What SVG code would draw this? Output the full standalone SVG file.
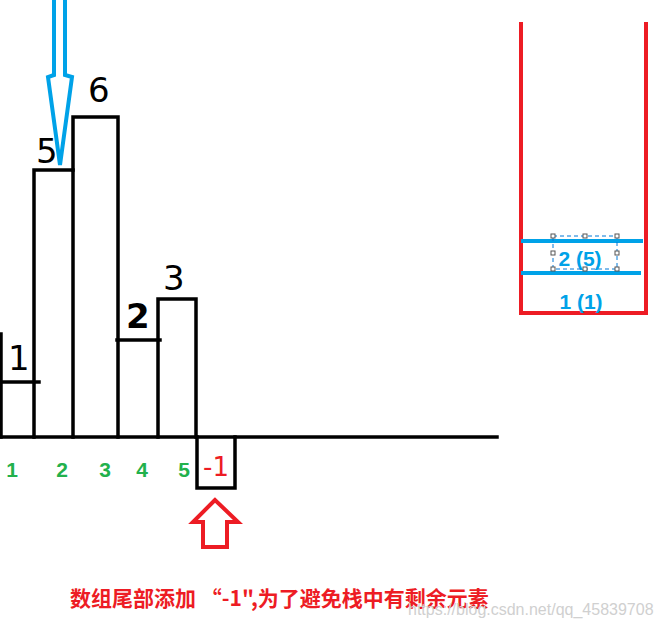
<svg xmlns="http://www.w3.org/2000/svg" width="661" height="630" viewBox="0 0 661 630">
<style>
.bk{fill:none;stroke:#000;stroke-width:3.5;stroke-linecap:square;stroke-linejoin:miter}
.hand{font-family:"DejaVu Sans",sans-serif;font-size:34px;fill:#000}
.idx{font-family:"Liberation Sans",Arial,sans-serif;font-weight:bold;font-size:21px;fill:#22b14c;text-anchor:middle}
.stk{font-family:"Liberation Sans",Arial,sans-serif;font-weight:bold;font-size:21px;fill:#00a2e8;text-anchor:middle}
.red{fill:none;stroke:#ed1c24;stroke-width:4}
.blue{fill:none;stroke:#00a2e8;stroke-width:4}
.hdl{fill:#fff;stroke:#555;stroke-width:1}
</style>
<rect width="661" height="630" fill="#fff"/>
<g id="bars">
<path class="bk" d="M1,437 V334"/>
<path class="bk" d="M0,382 H39"/>
<path class="bk" d="M34,437 V170 H73 V437"/>
<path class="bk" d="M73,170 V117 H118 V437"/>
<path class="bk" d="M117,340 H160"/>
<path class="bk" d="M158,437 V299 H196 V437"/>
<path class="bk" d="M0,437 H497"/>
<path class="bk" d="M197,437 V488 H235 V437"/>
</g>
<g id="values">
<text class="hand" x="8" y="370" font-size="30">1</text>
<text class="hand" x="36" y="163">5</text>
<text class="hand" x="88" y="102">6</text>
<text class="hand" x="126" y="328" font-size="22" font-weight="bold">2</text>
<text class="hand" x="163" y="290">3</text>
<text x="216" y="476" font-family="DejaVu Sans,sans-serif" font-size="26" fill="#ed1c24" text-anchor="middle">-1</text>
</g>
<g id="indices">
<text class="idx" x="12" y="477">1</text>
<text class="idx" x="62" y="477">2</text>
<text class="idx" x="105" y="477">3</text>
<text class="idx" x="142" y="477">4</text>
<text class="idx" x="184" y="477">5</text>
</g>
<g id="connectors">
<path class="blue" d="M54,0 V75 L48,77 L60,165 L72,77 L65,75 V0"/>
<path class="red" d="M215,500 L193,522 H203 V547 H227 V522 H238 Z"/>
</g>
<g id="stack">
<path class="red" d="M521,22 V313 H646 V22"/>
<path class="blue" d="M521,241 H643"/>
<path class="blue" d="M521,273 H641"/>
<text class="stk" x="580" y="266">2 (5)</text>
<text class="stk" x="581" y="309">1 (1)</text>
<rect x="553" y="236" width="64" height="33" fill="none" stroke="#0078d7" stroke-width="1" stroke-dasharray="4,3"/>
<rect class="hdl" x="551" y="234" width="4" height="4"/>
<rect class="hdl" x="583" y="234" width="4" height="4"/>
<rect class="hdl" x="615" y="234" width="4" height="4"/>
<rect class="hdl" x="551" y="251" width="4" height="4"/>
<rect class="hdl" x="615" y="251" width="4" height="4"/>
<rect class="hdl" x="551" y="267" width="4" height="4"/>
<rect class="hdl" x="583" y="267" width="4" height="4"/>
<rect class="hdl" x="615" y="267" width="4" height="4"/>
</g>
<g id="caption">
<text x="70" y="606" font-family="'Noto Sans CJK SC',sans-serif" font-weight="bold" font-size="21" fill="#ed1c24">数组尾部添加 “-1",为了避免栈中有剩余元素</text>
<text x="408" y="615" font-family="'Liberation Sans',Arial,sans-serif" font-size="16" fill="#d0d0d0">https://blog.csdn.net/qq_45839708</text>
</g>
</svg>
